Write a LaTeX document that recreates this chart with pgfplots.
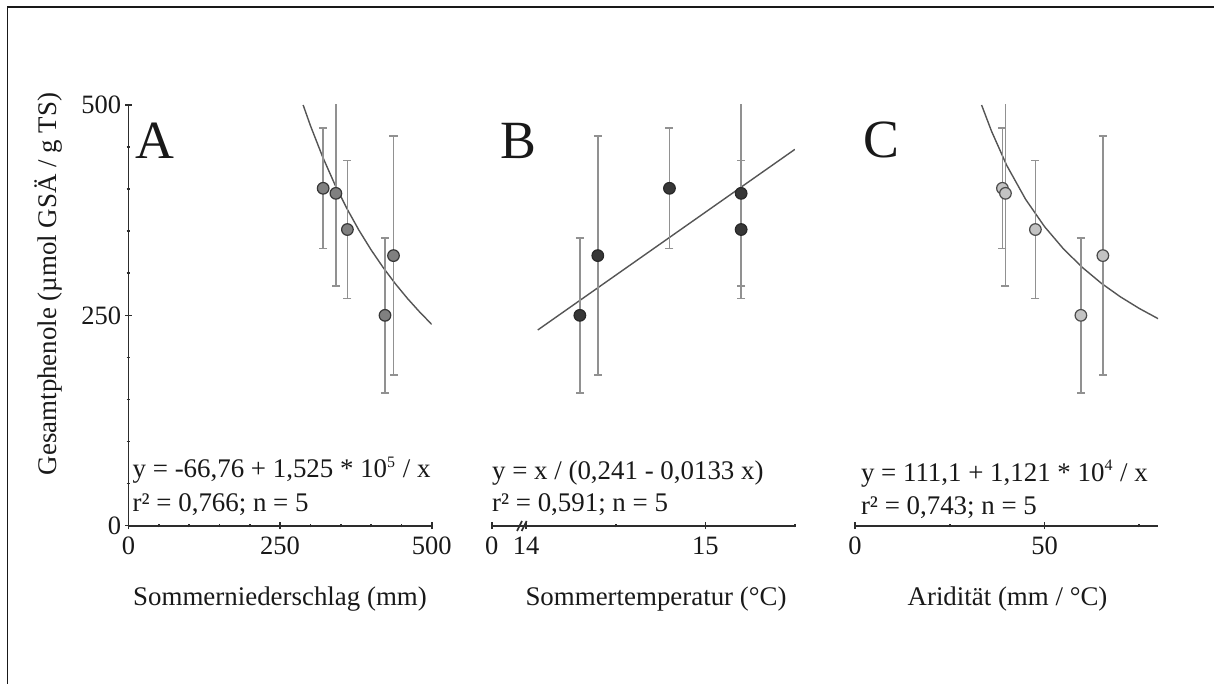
\documentclass[border=0pt]{standalone}
\usepackage{fontspec}
\setmainfont{Liberation Serif}
\usepackage{pgfplots}
\usepackage{pgfplotstable}
\pgfplotsset{compat=1.18}

\definecolor{txt}{RGB}{25,25,25}
\definecolor{axc}{RGB}{45,45,45}
\definecolor{curvec}{RGB}{85,85,85}
\definecolor{errc}{RGB}{145,145,145}
\definecolor{fillA}{RGB}{128,128,128}
\definecolor{edgeA}{RGB}{55,55,55}
\definecolor{fillB}{RGB}{55,55,55}
\definecolor{edgeB}{RGB}{40,40,40}
\definecolor{fillC}{RGB}{195,195,195}
\definecolor{edgeC}{RGB}{75,75,75}

\pgfplotstableread{
x y e
321 401 71.5
342 395 110
361 352 82
423 250 92
437 321 142
}\dataA
\pgfplotstableread{
x y e
14.3 250 92
14.4 321 142
14.8 401 71.5
15.2 395 110
15.2 352 82
}\dataB
\pgfplotstableread{
x y e
38.9 401 71.5
39.7 395 110
47.6 352 82
59.6 250 92
65.4 321 142
}\dataC
\pgfplotstableread{
x y
288 500
300 475.5
320 438.6
340 406.0
360 377.1
380 351.2
400 327.9
420 306.8
440 287.6
460 270.1
480 254.1
500 239.3
}\curveA
\pgfplotstableread{
x y
14.065 232.6
15.5 447.3
}\curveB
\pgfplotstableread{
x y
33.4 500
36 469.1
40 428.5
45 388.0
50 355.5
55 329.0
60 306.9
65 288.1
70 272.1
75 258.2
80 246.0
}\curveC

\pgfplotsset{
  panel/.style={
    scale only axis, width=151.6bp, height=210.35bp,
    ymin=0, ymax=500,
    tick align=outside,
    major tick length=3.5bp, minor tick length=1.8bp,
    every tick/.style={draw=axc, line width=0.8bp},
    tick label style={font=\fontsize{13.3}{15}\selectfont, text=txt},
    xticklabel style={inner sep=3.6bp},
    yticklabel style={inner sep=1.8bp},
    /pgf/number format/assume math mode=true,
  },
  noarrows/.style={axis line style={-, draw=axc, line width=0.9bp},
    x axis line style={-}, y axis line style={-}},
  errplot/.style={only marks, mark=*, mark size=2.9bp,
    error bars/.cd, y dir=both, y explicit,
    error bar style={draw=errc, line width=0.8bp},
    error mark options={draw=errc, line width=0.8bp, mark size=2bp, rotate=90}},
  fitline/.style={no marks, draw=curvec, line width=0.7bp},
}

\begin{document}
\begin{tikzpicture}
\path[use as bounding box] (0,0) rectangle (607bp,342bp);
\fill[white] (0,0) rectangle (607bp,342bp);
\draw[line width=0.9bp, draw=black!90] (3.75bp,0) -- (3.75bp,338.5bp) -- (607bp,338.5bp);

% Panel A
\begin{axis}[panel, at={(64.25bp,79.15bp)}, anchor=south west,
  xmin=0, xmax=500, axis lines=left, noarrows,
  xtick={0,250,500}, minor xtick={50,100,150,200,300,350,400,450},
  ytick={0,250,500}, minor ytick={50,100,150,200,300,350,400,450}]
  \addplot[fitline] table[x=x,y=y] {\curveA};
  \addplot[mark options={fill=fillA, draw=edgeA, line width=0.6bp}, errplot]
    table[x=x, y=y, y error=e] {\dataA};
\end{axis}

% Panel B
\begin{axis}[panel, at={(245.85bp,79.15bp)}, anchor=south west,
  xmin=13.808, xmax=15.5, axis x line=bottom, axis y line=none, noarrows,
  xtick={13.808,14,15}, xticklabels={0,14,15}, minor xtick={14.5,15.5}]
  \addplot[fitline] table[x=x,y=y] {\curveB};
  \addplot[mark options={fill=fillB, draw=edgeB, line width=0.6bp}, errplot]
    table[x=x, y=y, y error=e] {\dataB};
\end{axis}

% Panel C
\begin{axis}[panel, at={(427.5bp,79.15bp)}, anchor=south west,
  xmin=0, xmax=80, axis x line=bottom, axis y line=none, noarrows,
  xtick={0,50}, minor xtick={25,75}]
  \addplot[fitline] table[x=x,y=y] {\curveC};
  \addplot[mark options={fill=fillC, draw=edgeC, line width=0.6bp}, errplot]
    table[x=x, y=y, y error=e] {\dataC};
\end{axis}

% axis break marks in B
\draw[axc, line width=0.8bp] (258.5bp,76.5bp) -- (261bp,81.5bp);
\draw[axc, line width=0.8bp] (260.8bp,76.5bp) -- (263.3bp,81.5bp);

% panel letters
\node[anchor=base west, inner sep=0, text=txt, font=\fontsize{27}{30}\selectfont] at (67.5bp,262.85bp) {A};
\node[anchor=base west, inner sep=0, text=txt, font=\fontsize{27}{30}\selectfont] at (250bp,262.85bp) {B};
\node[anchor=base west, inner sep=0, text=txt, font=\fontsize{27}{30}\selectfont] at (431.5bp,263bp) {C};

% equations
\begin{scope}[every node/.style={anchor=base west, inner sep=0, text=txt, font=\fontsize{13.5}{16}\selectfont}]
\node at (66.15bp,103bp) {y = -66,76 + 1,525 * 10\textsuperscript{\fontsize{8}{8}\selectfont 5} / x};
\node at (66.15bp,86.2bp) {r² = 0,766; n = 5};
\node at (245.85bp,102bp) {y = x / (0,241 - 0,0133 x)};
\node at (245.85bp,86.2bp) {r² = 0,591; n = 5};
\node at (430.3bp,101.3bp) {y = 111,1 + 1,121 * 10\textsuperscript{\fontsize{8}{8}\selectfont 4} / x};
\node at (430.3bp,84.5bp) {r² = 0,743; n = 5};
\end{scope}

% axis labels
\begin{scope}[every node/.style={inner sep=0, text=txt, font=\fontsize{13.5}{16}\selectfont}]
\node[anchor=base] at (140bp,39.5bp) {Sommerniederschlag (mm)};
\node[anchor=base] at (328bp,39.5bp) {Sommertemperatur (°C)};
\node[anchor=base] at (503.75bp,39.5bp) {Aridität (mm / °C)};
\node[anchor=base, rotate=90] at (28.3bp,200bp) {Gesamtphenole (µmol GSÄ / g TS)};
\end{scope}
\end{tikzpicture}
\end{document}
